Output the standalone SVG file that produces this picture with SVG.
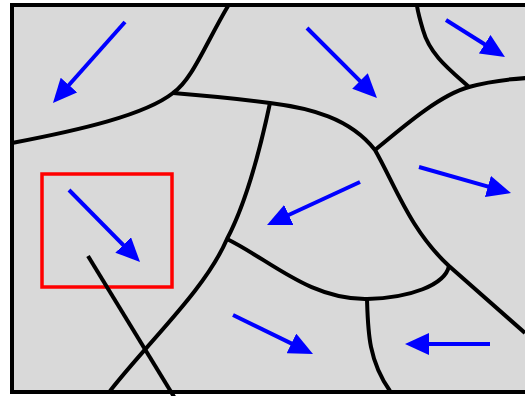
<svg xmlns="http://www.w3.org/2000/svg" width="525" height="396" viewBox="0 0 525 396">
  <style>
    .frame { fill: #d9d9d9; stroke: #000; stroke-width: 4; }
    .border { fill: none; stroke: #000; stroke-width: 4; stroke-linejoin: round; }
    .flow { fill: none; stroke: #0000ff; stroke-width: 4; marker-end: url(#head); }
    .focus { fill: none; stroke: #ff0000; stroke-width: 3.5; }
    .pointer { fill: none; stroke: #000; stroke-width: 4; }
  </style>
  <defs>
    <marker id="head" viewBox="0 0 24 22" markerWidth="24" markerHeight="22" refX="14" refY="11" orient="auto" markerUnits="userSpaceOnUse">
      <path d="M0,0 L24,11 L0,22 Z" fill="#0000ff"/>
    </marker>
  </defs>

  <!-- outer frame -->
  <rect id="frame" class="frame" x="12" y="5" width="530" height="387"/>

  <!-- cell boundaries -->
  <g id="boundaries">
    <path class="border" d="M228,6 C205,45 192,80 173,93 C145,115 80,130 12,143"/>
    <path class="border" d="M173,93 C210,96 240,99 270,103 C310,108 350,118 375,150 C395,185 410,230 449,266 L525,333"/>
    <path class="border" d="M270,103 C260,150 245,205 227,239 C205,290 150,340 110,391"/>
    <path class="border" d="M227,239 C270,260 310,300 367,299 C410,298 445,285 449,266"/>
    <path class="border" d="M367,299 C368,330 368,360 390,391"/>
    <path class="border" d="M375,150 C405,125 440,95 469,87 C490,81 510,79 527,78"/>
    <path class="border" d="M469,87 C450,70 430,55 423,30 C420,20 418,12 417,6"/>
  </g>

  <!-- flow arrows -->
  <g id="arrows">
    <line class="flow" x1="125" y1="22" x2="59.6" y2="95.5"/>
    <line class="flow" x1="307" y1="28" x2="369.9" y2="90.9"/>
    <line class="flow" x1="446" y1="20" x2="496.5" y2="51.7"/>
    <line class="flow" x1="419" y1="167" x2="501.4" y2="190.3"/>
    <line class="flow" x1="360" y1="182" x2="276.1" y2="220.8"/>
    <line class="flow" x1="69" y1="190" x2="133" y2="254.9"/>
    <line class="flow" x1="233" y1="315" x2="304" y2="349.6"/>
    <line class="flow" x1="490" y1="344" x2="415" y2="344"/>
  </g>

  <!-- highlighted region and leader -->
  <g id="highlight">
    <rect class="focus" x="42" y="174" width="130" height="113"/>
    <line class="pointer" x1="88" y1="256" x2="176" y2="400"/>
  </g>
</svg>
